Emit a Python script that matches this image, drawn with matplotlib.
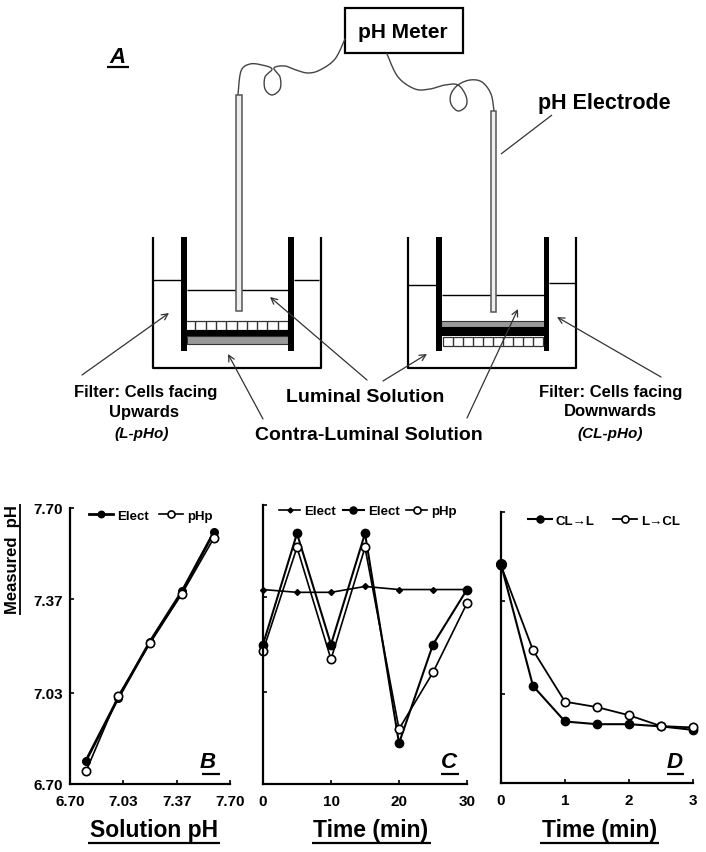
import matplotlib
matplotlib.use("Agg")
import matplotlib.pyplot as plt
import numpy as np

plt.rcParams['font.family'] = ['Liberation Sans', 'DejaVu Sans']
plt.rcParams['font.weight'] = 'bold'

W, H = 706, 853

# panel B
b_x = [6.80, 7.00, 7.20, 7.40, 7.60]
b_elect = [6.785, 7.01, 7.216, 7.398, 7.613]
b_php = [6.746, 7.018, 7.21, 7.39, 7.592]
b_ticks = [6.70, 7.03, 7.37, 7.70]
b_ticklabels = ['6.70', '7.03', '7.37', '7.70']

# panel C
c_x = [0, 5, 10, 15, 20, 25, 30]
c_elect1 = [7.397, 7.387, 7.387, 7.408, 7.397, 7.397, 7.397]
c_elect2 = [7.20, 7.598, 7.20, 7.598, 6.846, 7.20, 7.397]
c_php = [7.177, 7.548, 7.147, 7.548, 6.897, 7.10, 7.348]
c_xticks = [0, 10, 20, 30]

# panel D
d_x = [0, 0.5, 1, 1.5, 2, 2.5, 3]
d_cl_l = [7.507, 7.058, 6.927, 6.917, 6.917, 6.909, 6.896]
d_l_cl = [7.503, 7.19, 7.0, 6.98, 6.95, 6.91, 6.905]
d_xticks = [0, 1, 2, 3]


def spline(pts, n=12):
    # catmull-rom through the hand picked cable points
    p = np.array([pts[0]] + pts + [pts[-1]], dtype=float)
    out = []
    for i in range(1, len(p) - 2):
        for t in np.linspace(0, 1, n, endpoint=False):
            out.append(0.5 * (2 * p[i] + (p[i + 1] - p[i - 1]) * t
                              + (2 * p[i - 1] - 5 * p[i] + 4 * p[i + 1] - p[i + 2]) * t ** 2
                              + (3 * p[i] - p[i - 1] - 3 * p[i + 1] + p[i + 2]) * t ** 3))
    out.append(p[-2])
    return np.array(out)


def new_axes(left, right, top, bottom):
    ax = fig.add_axes([left / W, 1 - bottom / H, (right - left) / W, (bottom - top) / H])
    ax.spines['top'].set_visible(False)
    ax.spines['right'].set_visible(False)
    ax.spines['left'].set_linewidth(1.6)
    ax.spines['bottom'].set_linewidth(1.6)
    ax.set_ylim(6.70, 7.70)
    ax.patch.set_alpha(0)
    ax.tick_params(direction='in', length=3, width=1.2, labelsize=11)
    ax.tick_params(axis='x', pad=7)
    ax.tick_params(axis='y', pad=5)
    return ax


fig = plt.figure(figsize=(W / 100, H / 100), dpi=100)

# overlay in pixel coordinates for the schematic and the loose labels
bg = fig.add_axes([0, 0, 1, 1])
bg.set_xlim(0, W)
bg.set_ylim(H, 0)
bg.axis('off')


def line(xs, ys, lw=1.0, c='k'):
    bg.plot(xs, ys, color=c, lw=lw, solid_capstyle='butt')


def rect(x0, y0, x1, y1, fc='k', ec='none', lw=0):
    bg.add_patch(plt.Rectangle((x0, y0), x1 - x0, y1 - y0, fc=fc, ec=ec, lw=lw))


def grid(x0, x1, y0, y1, n=10):
    rect(x0, y0, x1, y1, fc='white', ec='#333333', lw=0.9)
    for x in np.linspace(x0, x1, n + 1)[1:-1]:
        line([x, x], [y0, y1], lw=1.0, c='#333333')


def arrow(tail, head):
    bg.annotate('', xy=head, xytext=tail,
                arrowprops=dict(arrowstyle='->', lw=0.9, color='#333333', mutation_scale=11,
                                shrinkA=0, shrinkB=0))


def electrode(x0, x1, top, bottom):
    bg.add_patch(plt.Rectangle((x0, top), x1 - x0, bottom - top, fc='#eeeeee', ec='#555555', lw=1.1, zorder=3))


# left beaker
line([153, 153, 321, 321], [238, 369, 369, 238], lw=1.6)
line([153, 181], [281, 281])
line([294, 319], [281, 281])
line([187, 288], [291, 291])
grid(185, 288, 322, 331)
rect(181, 331, 294, 337)
rect(187, 337, 288, 345, fc='#999999', ec='#333333', lw=0.8)
rect(181, 238, 187, 352)
rect(288, 238, 294, 352)
electrode(236, 242, 96, 312)

# right beaker
line([408, 408, 576, 576], [238, 369, 369, 238], lw=1.6)
line([408, 436], [286, 286])
line([549, 576], [284, 284])
line([442, 544], [296, 296])
rect(441, 322, 545, 328, fc='#999999', ec='#333333', lw=0.8)
rect(436, 328, 549, 337)
grid(443, 543, 338, 347)
rect(436, 238, 442, 352)
rect(544, 238, 549, 352)
electrode(491, 496, 112, 313)

# cables, each loop goes round its right side first
cable_left = [(345, 40), (335, 60), (320, 71), (308, 74), (296, 71), (285, 67), (274, 69), (280, 78),
              (280, 90), (272, 96), (265, 90), (265, 78), (272, 70), (262, 66), (250, 65), (241, 72), (238, 96)]
cable_right = [(387, 55), (398, 78), (415, 90), (430, 90), (445, 86), (458, 86), (466, 97), (466, 107),
               (458, 112), (451, 105), (451, 95), (458, 86), (470, 81), (482, 83), (491, 95), (494, 112)]
for pts in (cable_left, cable_right):
    c = spline(pts)
    bg.plot(c[:, 0], c[:, 1], color='#444444', lw=1.0)

# pH meter box
rect(345, 9, 463, 54, fc='white', ec='k', lw=1.6)
bg.text(403, 32, 'pH Meter', ha='center', va='center', fontsize=15)
bg.text(604, 103, 'pH Electrode', ha='center', va='center', fontsize=15.5)
line([501, 552], [155, 116], lw=0.9, c='#333333')

# pointers
arrow((82, 376), (169, 314))
arrow((263, 420), (228, 355))
arrow((367, 381), (270, 298))
arrow((383, 382), (427, 355))
arrow((467, 419), (518, 310))
arrow((661, 378), (557, 318))

bg.text(146, 393, 'Filter: Cells facing', ha='center', va='center', fontsize=12)
bg.text(144, 412, 'Upwards', ha='center', va='center', fontsize=12)
bg.text(142, 434, '(L-pHo)', ha='center', va='center', fontsize=11, style='italic')
bg.text(611, 393, 'Filter: Cells facing', ha='center', va='center', fontsize=12)
bg.text(610, 412, 'Downwards', ha='center', va='center', fontsize=12)
bg.text(610, 434, '(CL-pHo)', ha='center', va='center', fontsize=11, style='italic')
bg.text(365, 397, 'Luminal Solution', ha='center', va='center', fontsize=14)
bg.text(369, 436, 'Contra-Luminal Solution', ha='center', va='center', fontsize=14)

bg.text(118, 57, 'A', ha='center', va='center', fontsize=16, style='italic')
line([107, 129], [68, 68], lw=1.6)

# labels under the panels
for x, y, s, x0, x1 in [(154, 831, 'Solution pH', 88, 220),
                        (371, 831, 'Time (min)', 312, 431),
                        (600, 831, 'Time (min)', 540, 659)]:
    bg.text(x, y, s, ha='center', va='center', fontsize=16.5)
    line([x0, x1], [844, 844], lw=1.6)

bg.text(13, 560, 'Measured  pH', rotation=90, ha='center', va='center', fontsize=12)
line([20, 20], [505, 616], lw=1.3)

for x, s, x0, x1 in [(208, 'B', 202, 220), (449, 'C', 441, 459), (675, 'D', 667, 684)]:
    bg.text(x, 763, s, ha='center', va='center', fontsize=16, style='italic')
    line([x0, x1], [775, 775], lw=1.6)

leg_kw = dict(frameon=False, fontsize=9.5, handletextpad=0.3, borderpad=0, borderaxespad=0, markerscale=0.85)

# B
ax_b = new_axes(70, 230, 509, 785)
ax_b.plot(b_x, b_elect, '-o', color='k', lw=2.0, ms=5.5, label='Elect', clip_on=False)
ax_b.plot(b_x, b_php, '-o', color='k', lw=1.2, ms=6, mfc='white', mew=1.2, label='pHp', clip_on=False)
ax_b.set_xlim(6.70, 7.70)
ax_b.set_xticks(b_ticks, b_ticklabels)
ax_b.set_yticks(b_ticks, b_ticklabels)
ax_b.legend(loc='upper left', bbox_to_anchor=(0.12, 0.995), ncol=2, handlelength=1.8, columnspacing=0.8, **leg_kw)

# C
ax_c = new_axes(263, 467, 506, 785)
ax_c.plot(c_x, c_elect1, '-D', color='k', lw=1.2, ms=3, label='Elect', clip_on=False)
ax_c.plot(c_x, c_elect2, '-o', color='k', lw=1.5, ms=6, label='Elect', clip_on=False)
ax_c.plot(c_x, c_php, '-o', color='k', lw=1.2, ms=6, mfc='white', mew=1.2, label='pHp', clip_on=False)
ax_c.set_xlim(0, 30)
ax_c.set_xticks(c_xticks, [str(v) for v in c_xticks])
ax_c.set_yticks(b_ticks, [])
ax_c.legend(loc='upper left', bbox_to_anchor=(0.08, 1.0), ncol=3, handlelength=1.6, columnspacing=0.5, **leg_kw)

# D
ax_d = new_axes(501, 693, 513, 784)
ax_d.plot(d_x, d_cl_l, '-o', color='k', lw=1.5, ms=6, label='CL\u2192L', clip_on=False)
ax_d.plot(d_x, d_l_cl, '-o', color='k', lw=1.3, ms=6, mfc='white', mew=1.2, label='L\u2192CL', clip_on=False)
ax_d.plot(d_x[:1], d_cl_l[:1], 'o', color='k', ms=7, clip_on=False)
ax_d.set_xlim(0, 3)
ax_d.set_xticks(d_xticks, [str(v) for v in d_xticks])
ax_d.set_yticks(b_ticks, [])
ax_d.legend(loc='upper left', bbox_to_anchor=(0.14, 0.99), ncol=2, handlelength=1.8, columnspacing=1.4, **leg_kw)

fig.savefig('out.png', dpi=100)
